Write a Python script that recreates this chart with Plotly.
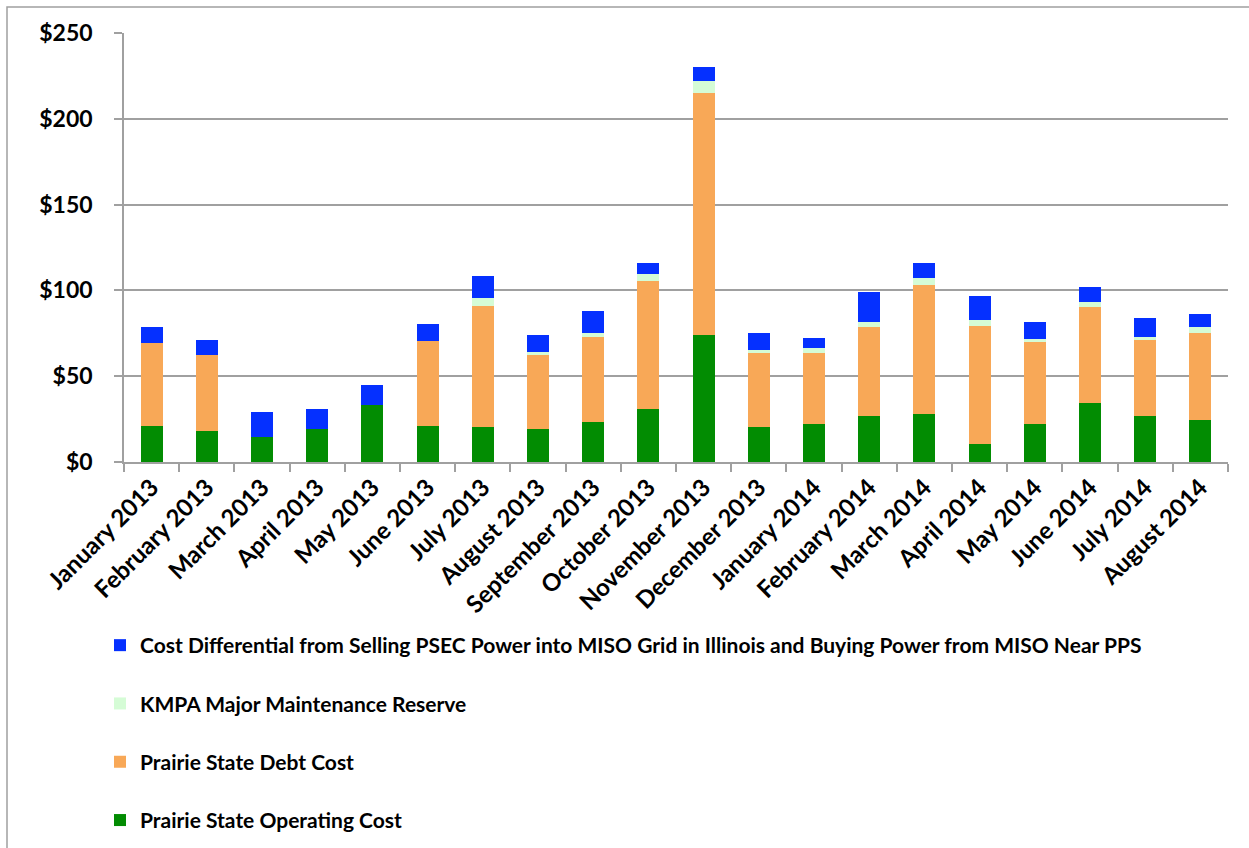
import plotly.graph_objects as go

months = [
    "January 2013", "February 2013", "March 2013", "April 2013", "May 2013",
    "June 2013", "July 2013", "August 2013", "September 2013", "October 2013",
    "November 2013", "December 2013", "January 2014", "February 2014",
    "March 2014", "April 2014", "May 2014", "June 2014", "July 2014", "August 2014",
]

operating_cost = [21.2, 18.1, 14.8, 19.0, 33.0, 21.2, 20.2, 19.2, 23.5, 30.9,
                  74.0, 20.2, 22.3, 26.8, 27.8, 10.7, 22.3, 34.2, 26.8, 24.5]
debt_cost = [48.3, 44.1, 0.0, 0.0, 0.0, 49.5, 70.9, 43.0, 49.5, 74.4,
             141.0, 43.1, 41.0, 51.7, 75.3, 68.7, 47.4, 56.1, 44.1, 50.7]
maintenance_reserve = [0.0, 0.0, 0.0, 0.0, 0.0, 0.0, 4.3, 1.9, 2.0, 4.3,
                       7.2, 2.2, 3.3, 3.1, 4.3, 3.4, 2.2, 3.1, 2.1, 3.3]
cost_differential = [9.0, 8.7, 14.2, 11.9, 12.1, 9.7, 13.0, 9.9, 13.0, 6.6,
                     8.0, 9.7, 5.5, 17.3, 8.8, 13.9, 9.7, 8.6, 10.9, 7.6]

y_ticks = [0, 50, 100, 150, 200, 250]
y_tick_text = ["$0", "$50", "$100", "$150", "$200", "$250"]

series = [
    ("Prairie State Operating Cost", operating_cost, "#028C02"),
    ("Prairie State Debt Cost", debt_cost, "#F8A857"),
    ("KMPA Major Maintenance Reserve", maintenance_reserve, "#D5FCD6"),
    ("Cost Differential from Selling PSEC Power into MISO Grid in Illinois and Buying Power from MISO Near PPS",
     cost_differential, "#0530FF"),
]

FONT = "Lato"
W, H = 1249, 848
L, R, T, B = 124, 21, 33, 386

fig = go.Figure()
n = len(series)
for i, (name, vals, color) in enumerate(series):
    fig.add_trace(go.Bar(
        x=months, y=vals, name=name, legendgroup=f"g{i}", legendrank=n - i,
        marker=dict(color=color, line=dict(width=0)),
    ))

# outer chart frame (grey border along top and left)
pw, ph = W - L - R, H - T - B
def px_x(v):
    return (v - L) / pw
def px_y(v):
    return (H - B - v) / ph

fig.add_shape(type="rect", xref="paper", yref="paper",
              x0=px_x(7), x1=px_x(W + 20), y0=px_y(7), y1=px_y(H + 20),
              line=dict(color="#A0A0A0", width=1.5), layer="below")

fig.update_layout(
    width=W, height=H,
    barmode="stack", bargap=0.6,
    paper_bgcolor="white", plot_bgcolor="white",
    margin=dict(l=L, r=R, t=T, b=B, autoexpand=False),
    font=dict(family=FONT, color="black"),
    showlegend=True,
    legend=dict(
        traceorder="grouped", tracegroupgap=28,
        orientation="v", xref="container", yref="container",
        x=100 / W, xanchor="left", y=1 - 625 / H, yanchor="top",
        font=dict(family=FONT, size=21, color="black", weight="bold"),
        itemwidth=30, bgcolor="rgba(0,0,0,0)",
    ),
    xaxis=dict(
        tickangle=-45, tickson="boundaries", ticks="outside", ticklen=8,
        tickcolor="#A0A0A0", tickwidth=1.5,
        showline=True, linecolor="#A0A0A0", linewidth=1.5,
        showgrid=False,
        tickfont=dict(family=FONT, size=24, color="black", weight="bold"),
    ),
    yaxis=dict(
        range=[0, 250], tickvals=y_ticks, ticktext=y_tick_text,
        ticks="outside", ticklen=8, tickcolor="#A0A0A0", tickwidth=1.5,
        showline=True, linecolor="#A0A0A0", linewidth=1.5,
        showgrid=True, gridcolor="#A0A0A0", gridwidth=1.5,
        zeroline=False, ticklabelstandoff=17,
        tickfont=dict(family=FONT, size=23, color="black", weight="bold"),
    ),
)

fig.write_html("out.html")
